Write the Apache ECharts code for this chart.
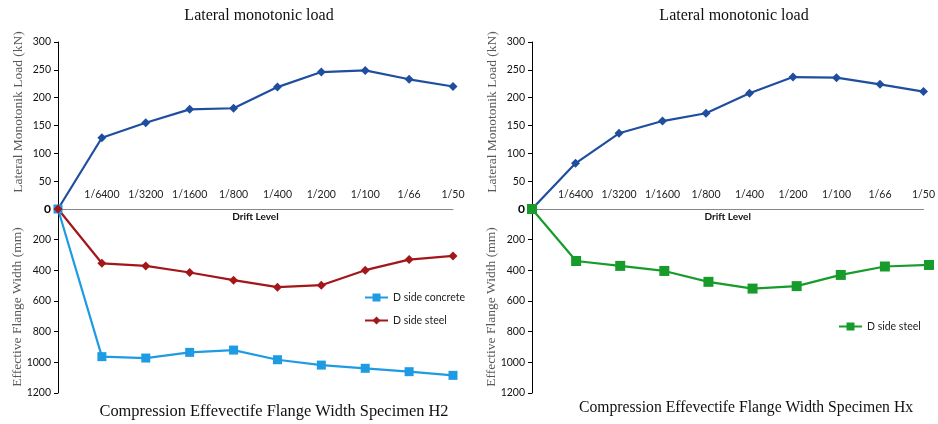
<!DOCTYPE html>
<html>
<head>
<meta charset="utf-8">
<script src="https://cdn.jsdelivr.net/npm/echarts@6/dist/echarts.min.js"></script>
<style>
html,body{margin:0;padding:0;background:#fff;}
#chart{width:938px;height:424px;}
</style>
</head>
<body>
<div id="chart"></div>
<script>
// Categories (drift levels); first point is the origin
var driftLevels = ['', '1/6400', '1/3200', '1/1600', '1/800', '1/400', '1/200', '1/100', '1/66', '1/50'];
// Specimen H2
var loadH2 = [0, 128, 155, 179, 181, 219, 246, 249, 233, 220];
var concreteH2 = [0, 963, 972, 935, 920, 983, 1018, 1039, 1061, 1085];
var steelH2 = [0, 354, 371, 414, 464, 510, 497, 399, 330, 306];
// Specimen Hx
var loadHx = [0, 82, 136, 158, 172, 208, 237, 236, 224, 211];
var steelHx = [0, 339, 371, 404, 475, 519, 503, 430, 375, 365];
// Tick settings
var loadTicks = {min: 0, max: 300, interval: 50};
var widthTicks = {min: 0, max: 1200, interval: 200};

var sans = 'Lato';
var serif = '"Liberation Serif", "DejaVu Serif", serif';
var darkBlue = '#1f4e9f';
var lightBlue = '#1e9be3';
var darkRed = '#a3161a';
var green = '#179c2c';

var chart = echarts.init(document.getElementById('chart'));

function upperX(grid) {
  return {
    type: 'category', gridIndex: grid, data: driftLevels, boundaryGap: false,
    axisLine: {lineStyle: {color: '#878787', width: 1}},
    axisTick: {show: false},
    axisLabel: {inside: true, margin: 9, color: '#222', fontFamily: sans, fontSize: 10.5, interval: 0},
    name: 'Drift Level', nameLocation: 'middle', nameGap: 3,
    nameTextStyle: {fontFamily: sans, fontSize: 10, fontWeight: 'bold', color: '#111', verticalAlign: 'top'}
  };
}
function lowerX(grid) {
  return {type: 'category', gridIndex: grid, data: driftLevels, boundaryGap: false, show: false};
}
function yCommon(grid, t, inverse, hideZero) {
  return {
    type: 'value', gridIndex: grid, min: t.min, max: t.max, interval: t.interval, inverse: inverse,
    axisLine: {show: true, lineStyle: {color: '#000', width: 1}},
    axisTick: {show: true, length: 4, lineStyle: {color: '#000'}},
    splitLine: {show: false},
    axisLabel: {
      margin: 7, color: '#111', fontFamily: sans, fontSize: 10.5,
      formatter: function (v) { if (v === 0) return hideZero ? '' : '{z|0}'; return String(v); },
      rich: {z: {fontFamily: sans, fontSize: 12, fontWeight: 'bold', color: '#000'}}
    }
  };
}

function lineSeries(name, xi, yi, data, color, symbol, size) {
  return {
    name: name, type: 'line', xAxisIndex: xi, yAxisIndex: yi, data: data,
    symbol: symbol, symbolSize: size,
    lineStyle: {color: color, width: 2.2},
    itemStyle: {color: color},
    emphasis: {disabled: true}, animation: false
  };
}

var option = {
  backgroundColor: '#fff',
  animation: false,
  grid: [
    {left: 58, top: 42, width: 395, height: 167},
    {left: 58, top: 209, width: 395, height: 184},
    {left: 532, top: 42, width: 397, height: 167},
    {left: 532, top: 209, width: 397, height: 184}
  ],
  xAxis: [upperX(0), lowerX(1), upperX(2), lowerX(3)],
  yAxis: [
    yCommon(0, loadTicks, false, false),
    yCommon(1, widthTicks, true, true),
    yCommon(2, loadTicks, false, false),
    yCommon(3, widthTicks, true, true)
  ],
  legend: [
    {
      data: ['D side concrete', 'D side steel'], orient: 'vertical', left: 364, top: 292, padding: 0,
      itemWidth: 23, itemHeight: 10, itemGap: 12, selectedMode: false,
      textStyle: {fontFamily: sans, fontSize: 10.5, color: '#222'}
    },
    {
      data: ['D side steel '], orient: 'vertical', left: 838, top: 321, padding: 0,
      itemWidth: 23, itemHeight: 10, itemGap: 12, selectedMode: false,
      textStyle: {fontFamily: sans, fontSize: 10.5, color: '#222'}
    }
  ],
  series: [
    lineSeries('Lateral load H2', 0, 0, loadH2, darkBlue, 'diamond', 9),
    lineSeries('D side concrete', 1, 1, concreteH2, lightBlue, 'rect', 9),
    lineSeries('D side steel', 1, 1, steelH2, darkRed, 'diamond', 9),
    lineSeries('Lateral load Hx', 2, 2, loadHx, darkBlue, 'diamond', 9),
    lineSeries('D side steel ', 3, 3, steelHx, green, 'rect', 10)
  ],
  graphic: [
    {type: 'text', x: 259, y: 16, silent: true,
      style: {text: 'Lateral monotonic load', textAlign: 'center', textVerticalAlign: 'middle', font: '16px ' + serif, fill: '#111'}},
    {type: 'text', x: 734, y: 16, silent: true,
      style: {text: 'Lateral monotonic load', textAlign: 'center', textVerticalAlign: 'middle', font: '16px ' + serif, fill: '#111'}},
    {type: 'text', x: 274, y: 412, silent: true,
      style: {text: 'Compression Effevectife Flange Width Specimen H2', textAlign: 'center', textVerticalAlign: 'middle', font: '16.4px ' + serif, fill: '#111'}},
    {type: 'text', x: 746, y: 408, silent: true,
      style: {text: 'Compression Effevectife Flange Width Specimen Hx', textAlign: 'center', textVerticalAlign: 'middle', font: '15.7px ' + serif, fill: '#111'}},
    {type: 'text', x: 18, y: 112, rotation: Math.PI / 2, silent: true,
      style: {text: 'Lateral Monotonik Load (kN)', textAlign: 'center', textVerticalAlign: 'middle', font: '13.5px ' + serif, fill: '#595959'}},
    {type: 'text', x: 492, y: 112, rotation: Math.PI / 2, silent: true,
      style: {text: 'Lateral Monotonik Load (kN)', textAlign: 'center', textVerticalAlign: 'middle', font: '13.5px ' + serif, fill: '#595959'}},
    {type: 'text', x: 17, y: 307, rotation: Math.PI / 2, silent: true,
      style: {text: 'Effective Flange Width (mm)', textAlign: 'center', textVerticalAlign: 'middle', font: '13.5px ' + serif, fill: '#595959'}},
    {type: 'text', x: 491, y: 307, rotation: Math.PI / 2, silent: true,
      style: {text: 'Effective Flange Width (mm)', textAlign: 'center', textVerticalAlign: 'middle', font: '13.5px ' + serif, fill: '#595959'}}
  ]
};
chart.setOption(option);
</script>
</body>
</html>
